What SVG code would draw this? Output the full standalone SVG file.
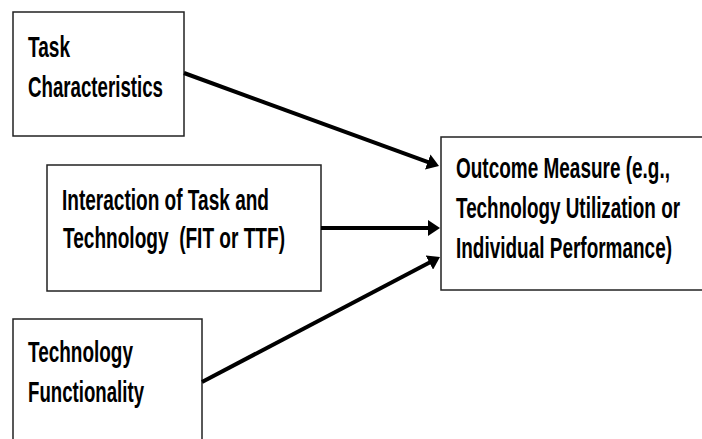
<svg xmlns="http://www.w3.org/2000/svg" width="702" height="439" viewBox="0 0 702 439">
<style>
.box{fill:#fff;stroke:#222;stroke-width:1.5}
.t{font-family:"Liberation Sans",Arial,sans-serif;font-weight:bold;font-size:30px;fill:#000}
.conn{stroke:#000;stroke-width:4;fill:none}
</style>
<defs>
<marker id="ah" markerUnits="strokeWidth" markerWidth="3" markerHeight="4" refX="1" refY="2" orient="auto">
<path d="M0,0 L3,2 L0,4 z" fill="#000"/>
</marker>
</defs>
<rect width="702" height="439" fill="#fff"/>
<g id="task">
<rect class="box" x="13" y="12" width="171" height="124"/>
<text class="t" x="28" y="57" textLength="42" lengthAdjust="spacingAndGlyphs">Task</text>
<text class="t" x="28" y="97" textLength="135" lengthAdjust="spacingAndGlyphs">Characteristics</text>
</g>
<g id="interaction">
<rect class="box" x="47" y="165" width="274" height="126"/>
<text class="t" x="62" y="210" textLength="207" lengthAdjust="spacingAndGlyphs">Interaction of Task and</text>
<text class="t" x="63" y="248" textLength="222" lengthAdjust="spacingAndGlyphs" xml:space="preserve">Technology  (FIT or TTF)</text>
</g>
<g id="technology">
<rect class="box" x="13" y="319" width="189" height="130"/>
<text class="t" x="28" y="362" textLength="105" lengthAdjust="spacingAndGlyphs">Technology</text>
<text class="t" x="28" y="402" textLength="116" lengthAdjust="spacingAndGlyphs">Functionality</text>
</g>
<g id="outcome">
<rect class="box" x="441" y="137" width="275" height="153"/>
<text class="t" x="456" y="178" textLength="214" lengthAdjust="spacingAndGlyphs">Outcome Measure (e.g.,</text>
<text class="t" x="456" y="218" textLength="224" lengthAdjust="spacingAndGlyphs">Technology Utilization or</text>
<text class="t" x="456" y="258" textLength="216" lengthAdjust="spacingAndGlyphs">Individual Performance)</text>
</g>
<g id="connectors">
<line class="conn" x1="184" y1="73" x2="431.5" y2="163.3" marker-end="url(#ah)"/>
<line class="conn" x1="321" y1="228" x2="432" y2="228" marker-end="url(#ah)"/>
<line class="conn" x1="202" y1="382" x2="432.9" y2="260.7" marker-end="url(#ah)"/>
</g>
</svg>
